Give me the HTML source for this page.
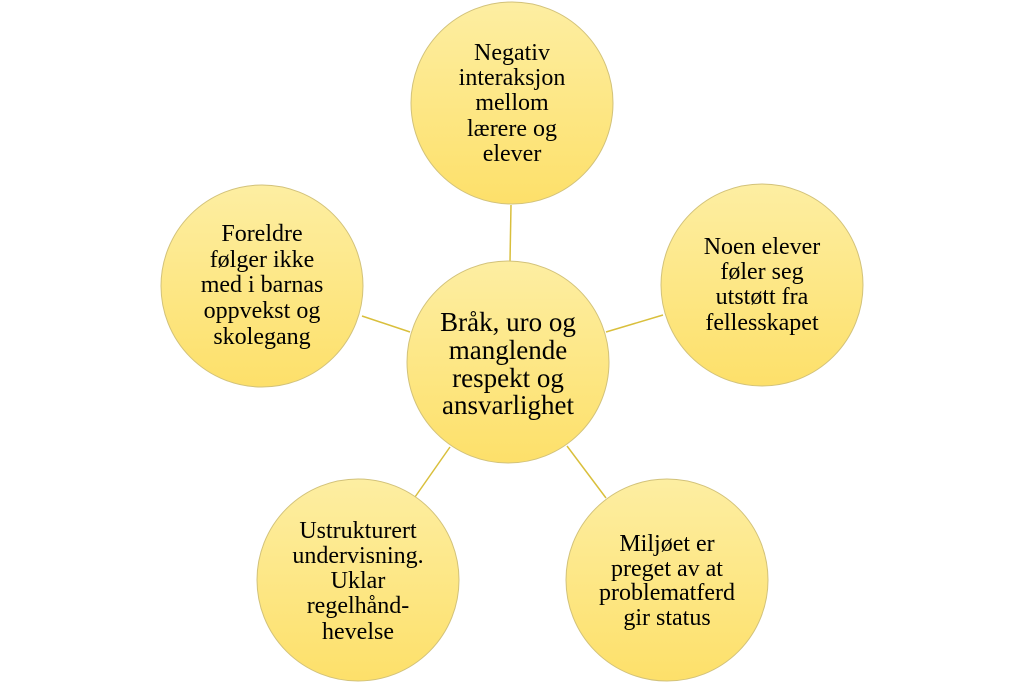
<!DOCTYPE html>
<html><head><style>
body{margin:0;background:#fff;}
</style></head><body>
<svg width="1024" height="683" viewBox="0 0 1024 683" xmlns="http://www.w3.org/2000/svg" style="display:block">
<defs>
<linearGradient id="g" x1="0" y1="0" x2="0" y2="1">
<stop offset="0" stop-color="#fdeea2"/>
<stop offset="1" stop-color="#fde06a"/>
</linearGradient>
</defs>
<g stroke="#d9bf3c" stroke-width="1.5">
<line x1="511" y1="205" x2="510" y2="262"/>
<line x1="362" y1="316" x2="410" y2="332"/>
<line x1="606" y1="332" x2="663" y2="315"/>
<line x1="415" y1="497" x2="450" y2="447"/>
<line x1="567" y1="446" x2="606" y2="498"/>
</g>
<g fill="url(#g)" stroke="#d2c27a" stroke-width="1">
<circle cx="512" cy="103" r="101"/>
<circle cx="762" cy="285" r="101"/>
<circle cx="262" cy="286" r="101"/>
<circle cx="667" cy="580" r="101"/>
<circle cx="358" cy="580" r="101"/>
<circle cx="508" cy="362" r="101"/>
</g>
<g font-family="Liberation Serif, serif" fill="#000" text-anchor="middle">
<g font-size="27">
<text x="508" y="331">Bråk, uro og</text>
<text x="508" y="359">manglende</text>
<text x="508" y="387">respekt og</text>
<text x="508" y="414">ansvarlighet</text>
</g>
<g font-size="24">
<text x="512" y="60">Negativ</text>
<text x="512" y="85">interaksjon</text>
<text x="512" y="110">mellom</text>
<text x="512" y="136">lærere og</text>
<text x="512" y="161">elever</text>
<text x="762" y="254">Noen elever</text>
<text x="762" y="279">føler seg</text>
<text x="762" y="304">utstøtt fra</text>
<text x="762" y="330">fellesskapet</text>
<text x="262" y="241">Foreldre</text>
<text x="262" y="267">følger ikke</text>
<text x="262" y="292">med i barnas</text>
<text x="262" y="318">oppvekst og</text>
<text x="262" y="344">skolegang</text>
<text x="667" y="551">Miljøet er</text>
<text x="667" y="576">preget av at</text>
<text x="667" y="600">problematferd</text>
<text x="667" y="625">gir status</text>
<text x="358" y="538">Ustrukturert</text>
<text x="358" y="563">undervisning.</text>
<text x="358" y="588">Uklar</text>
<text x="358" y="613">regelhånd-</text>
<text x="358" y="639">hevelse</text>
</g>
</g>
</svg>
</body></html>
